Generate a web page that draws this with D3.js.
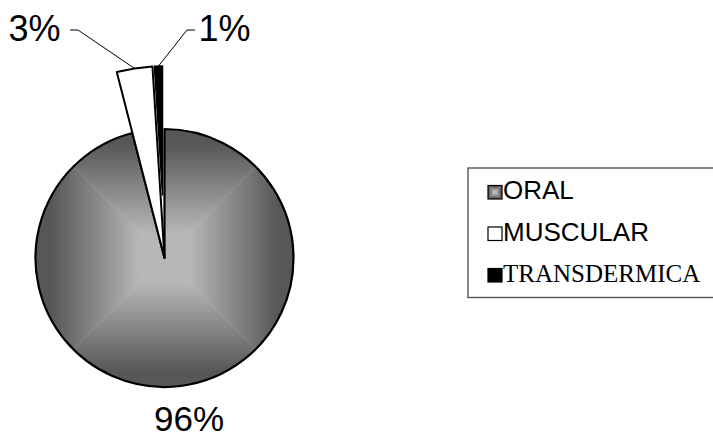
<!DOCTYPE html>
<html>
<head>
<meta charset="utf-8">
<script src="https://cdn.jsdelivr.net/npm/d3@7"></script>
<style>
  html, body { margin: 0; padding: 0; background: #fff; overflow: hidden; }
  svg { display: block; }
</style>
</head>
<body>
<svg id="chart" width="713" height="437"></svg>
<script>
// Vías de administración (porcentaje de casos)
const categories = ["ORAL", "MUSCULAR", "TRANSDERMICA"];
const values = [96, 3, 1];
const valueLabels = values.map(v => v + "%");

// Layout
const W = 713, H = 437;
const cx = 164.5, cy = 258, R = 129;
const sliceRadius = [R, 192, R];      // outer radius per slice
const sliceOffset = [0, 0, 63];       // explode distance per slice
const labelFont = "'Liberation Sans', Arial, sans-serif";
const serifFont = "'Liberation Serif', 'Times New Roman', serif";
const dark = "#575757", light = "#b6b6b6";

const svg = d3.select("#chart");
const defs = svg.append("defs");

// Square "from centre" shading: four triangles, each with its own ramp
function squareShade(parent, x0, y0, w, h, id) {
  const mx = x0 + w / 2, my = y0 + h / 2;
  const sides = [
    { pts: [[x0, y0], [x0 + w, y0], [mx, my]], g: [mx, y0, mx, my] },
    { pts: [[x0 + w, y0], [x0 + w, y0 + h], [mx, my]], g: [x0 + w, my, mx, my] },
    { pts: [[x0 + w, y0 + h], [x0, y0 + h], [mx, my]], g: [mx, y0 + h, mx, my] },
    { pts: [[x0, y0 + h], [x0, y0], [mx, my]], g: [x0, my, mx, my] }
  ];
  sides.forEach((s, i) => {
    const gid = id + "-g" + i;
    const lg = defs.append("linearGradient").attr("id", gid)
      .attr("gradientUnits", "userSpaceOnUse")
      .attr("x1", s.g[0]).attr("y1", s.g[1]).attr("x2", s.g[2]).attr("y2", s.g[3]);
    lg.append("stop").attr("offset", 0).attr("stop-color", dark);
    lg.append("stop").attr("offset", 0.12).attr("stop-color", dark);
    lg.append("stop").attr("offset", 0.8).attr("stop-color", light);
    lg.append("stop").attr("offset", 1).attr("stop-color", light);
    parent.append("path")
      .attr("d", "M" + s.pts.map(p => p.join(",")).join("L") + "Z")
      .attr("fill", "url(#" + gid + ")")
      .attr("stroke", "url(#" + gid + ")")
      .attr("stroke-width", 0.6);
  });
}

const pie = d3.pie().sort(null).value(d => d);
const arcs = pie(values);

const sliceGeom = arcs.map((a, i) => {
  const mid = (a.startAngle + a.endAngle) / 2;
  const off = sliceOffset[i];
  const dx = off * Math.sin(mid), dy = -off * Math.cos(mid);
  const path = d3.arc().innerRadius(0).outerRadius(sliceRadius[i])(a);
  const tipR = off + sliceRadius[i];
  return {
    mid, dx, dy, path,
    edge: [cx + tipR * Math.sin(mid), cy - tipR * Math.cos(mid)]
  };
});

const pieG = svg.append("g");

// ORAL: shaded slice
{
  const s = sliceGeom[0];
  defs.append("clipPath").attr("id", "clip-oral")
    .append("path").attr("d", s.path)
    .attr("transform", `translate(${cx + s.dx},${cy + s.dy})`);
  const shadeG = pieG.append("g").attr("clip-path", "url(#clip-oral)");
  squareShade(shadeG, cx - R, cy - R, 2 * R, 2 * R, "oral");
  pieG.append("path").attr("d", s.path)
    .attr("transform", `translate(${cx + s.dx},${cy + s.dy})`)
    .attr("fill", "none").attr("stroke", "#000")
    .attr("stroke-width", 2.2).attr("stroke-linejoin", "round");
}

// MUSCULAR: white slice
pieG.append("path").attr("d", sliceGeom[1].path)
  .attr("transform", `translate(${cx + sliceGeom[1].dx},${cy + sliceGeom[1].dy})`)
  .attr("fill", "#fff").attr("stroke", "#000")
  .attr("stroke-width", 2).attr("stroke-linejoin", "round");

// TRANSDERMICA: black slice
pieG.append("path").attr("d", sliceGeom[2].path)
  .attr("transform", `translate(${cx + sliceGeom[2].dx},${cy + sliceGeom[2].dy})`)
  .attr("fill", "#000").attr("stroke", "#000")
  .attr("stroke-width", 1.5).attr("stroke-linejoin", "round");

// Percentage labels and leader lines
const labelPos = [
  { x: 154, y: 431, size: 35, leader: null },
  { x: 8.5, y: 41, size: 36, leader: [[78, 30], [70, 30]] },
  { x: 198.5, y: 41, size: 36, leader: [[187, 30], [195, 30]] }
];

labelPos.forEach((p, i) => {
  if (p.leader) {
    const pts = [sliceGeom[i].edge].concat(p.leader);
    svg.append("path")
      .attr("d", d3.line()(pts))
      .attr("fill", "none").attr("stroke", "#000").attr("stroke-width", 1);
  }
  svg.append("text")
    .attr("x", p.x).attr("y", p.y)
    .attr("font-family", labelFont).attr("font-size", p.size)
    .attr("fill", "#000")
    .text(valueLabels[i]);
});

// Legend
const legend = svg.append("g");
legend.append("rect")
  .attr("x", 468).attr("y", 168).attr("width", 270).attr("height", 129.5)
  .attr("fill", "#fff").attr("stroke", "#555").attr("stroke-width", 1.4);

const legendY = d3.scalePoint().domain(categories).range([199, 282]);
const legendFonts = [labelFont, labelFont, serifFont];
const legendSizes = [26, 26, 25];

categories.forEach((c, i) => {
  const by = legendY(c);
  const sx = 488, sy = by - 13.5, sw = 14, sh = 13.5;
  if (i === 0) {
    defs.append("clipPath").attr("id", "clip-sw")
      .append("rect").attr("x", sx).attr("y", sy).attr("width", sw).attr("height", sh);
    const g = legend.append("g").attr("clip-path", "url(#clip-sw)");
    squareShade(g, sx, sy, sw, sh, "sw");
    legend.append("rect").attr("x", sx).attr("y", sy).attr("width", sw).attr("height", sh)
      .attr("fill", "none").attr("stroke", "#000").attr("stroke-width", 1.2);
  } else {
    legend.append("rect").attr("x", sx).attr("y", sy).attr("width", sw).attr("height", sh)
      .attr("fill", i === 1 ? "#fff" : "#000")
      .attr("stroke", "#000").attr("stroke-width", 1.2);
  }
  legend.append("text")
    .attr("x", 503).attr("y", by)
    .attr("font-family", legendFonts[i]).attr("font-size", legendSizes[i])
    .attr("fill", "#000")
    .text(c);
});
</script>
</body>
</html>
